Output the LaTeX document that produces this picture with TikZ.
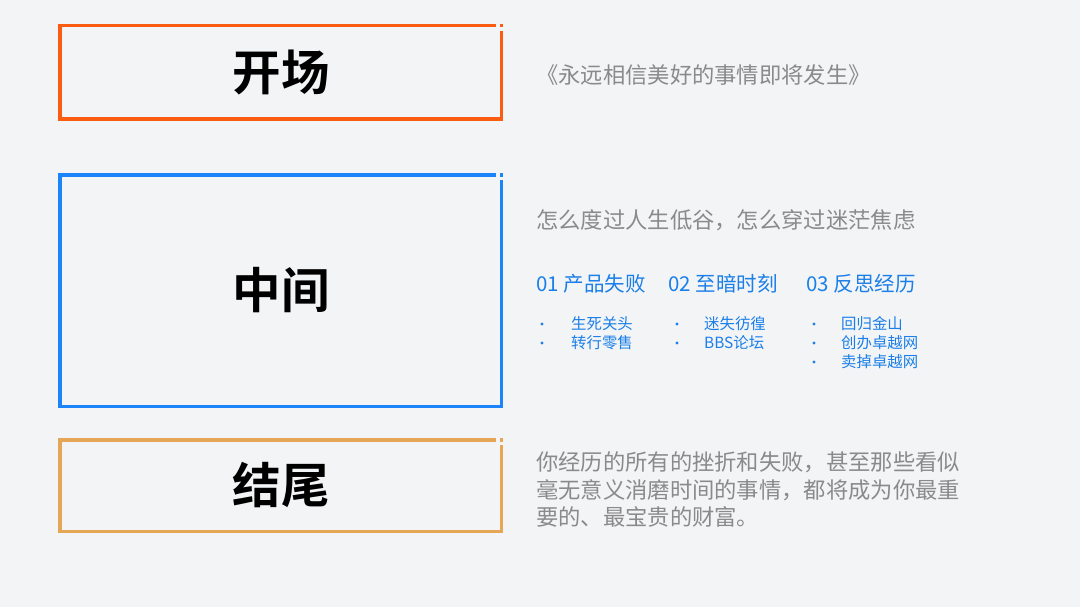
\documentclass[tikz,border=0pt]{standalone}
\usepackage{fontspec}
\setmainfont{Noto Sans CJK SC}
\newfontfamily\cjkbold{Noto Sans CJK SC Bold}
\definecolor{bgc}{HTML}{F3F4F6}
\definecolor{orangec}{HTML}{FA5C12}
\definecolor{bluec}{HTML}{1C84FA}
\definecolor{goldc}{HTML}{E5A655}
\definecolor{grayt}{HTML}{8A8A8A}
\definecolor{bluet}{HTML}{1A7FE8}
\tikzset{
  x=1pt, y=-1pt,
  frameline/.style={line width=3.6pt, line cap=butt, line join=miter},
  title/.style={font=\cjkbold\fontsize{48.5}{52}\selectfont, text=black, inner sep=0pt},
  graytext/.style={font=\fontsize{22.3}{28}\selectfont, text=grayt, anchor=west, inner sep=0pt},
  bluehead/.style={font=\fontsize{20.5}{24}\selectfont, text=bluet, anchor=west, inner sep=0pt},
  bitem/.style={font=\fontsize{15.4}{18}\selectfont, text=bluet, anchor=west, inner sep=0pt},
  bdot/.style={circle, fill=bluet, inner sep=0pt, minimum size=3.4pt},
}
\begin{document}
\begin{tikzpicture}
\fill[bgc] (0,0) rectangle (1080,607);
\useasboundingbox (0,0) rectangle (1080,607);

% box 1
\draw[frameline, orangec] (496,25.7) -- (60,25.7) -- (60,119.3) -- (501.3,119.3) -- (501.3,30.7);
\fill[orangec] (499.5,23.9) rectangle (503.1,27.5);
% box 2
\draw[frameline, bluec] (496,175) -- (60,175) -- (60,406.5) -- (501.3,406.5) -- (501.3,180.5);
\fill[bluec] (499.5,173.2) rectangle (503.1,176.8);
% box 3
\draw[frameline, goldc] (496,439.7) -- (60,439.7) -- (60,531.5) -- (501.3,531.5) -- (501.3,445);
\fill[goldc] (499.5,437.9) rectangle (503.1,441.5);

\node[title] (t1) at (281,73) {开场};
\node[title] (t2) at (281,290) {中间};
\node[title] (t3) at (281,485) {结尾};

\node[graytext] (q1) at (536,75) {《永远相信美好的事情即将发生》};
\node[graytext] (q2) at (536,220) {怎么度过人生低谷，怎么穿过迷茫焦虑};
\node[graytext, align=left, font=\fontsize{22.3}{27.5}\selectfont] (q3) at (536,490) {你经历的所有的挫折和失败，甚至那些看似\\毫无意义消磨时间的事情，都将成为你最重\\要的、最宝贵的财富。};

\node[bluehead] (h1) at (536,284) {01 产品失败};
\node[bluehead] (h2) at (668,284) {02 至暗时刻};
\node[bluehead] (h3) at (806,284) {03 反思经历};

\node[bdot] (d11) at (542,324) {};
\node[bdot] (d12) at (542,343) {};
\node[bitem] (i11) at (571,324) {生死关头};
\node[bitem] (i12) at (571,343) {转行零售};

\node[bdot] (d21) at (677,324) {};
\node[bdot] (d22) at (677,343) {};
\node[bitem] (i21) at (704,324) {迷失彷徨};
\node[bitem] (i22) at (704,343) {BBS论坛};

\node[bdot] (d31) at (814,324) {};
\node[bdot] (d32) at (814,343) {};
\node[bdot] (d33) at (814,362) {};
\node[bitem] (i31) at (841,324) {回归金山};
\node[bitem] (i32) at (841,343) {创办卓越网};
\node[bitem] (i33) at (841,362) {卖掉卓越网};
\end{tikzpicture}
\end{document}
